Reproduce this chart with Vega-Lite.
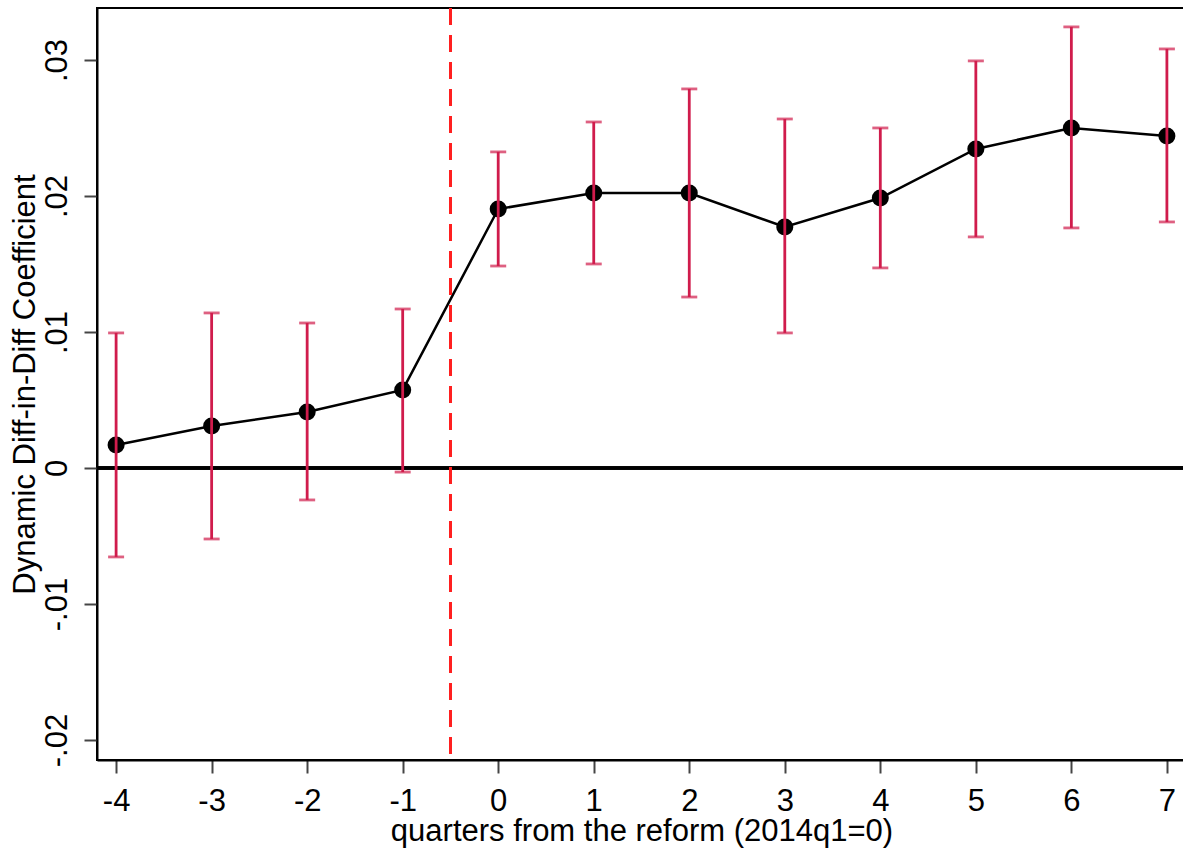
{
  "$schema": "https://vega.github.io/schema/vega-lite/v6.json",
  "width": 1089,
  "height": 752,
  "autosize": {"type": "none"},
  "padding": {"left": 97, "top": 8, "right": 0, "bottom": 90},
  "background": "white",
  "config": {
    "font": "Liberation Sans",
    "view": {"stroke": "black", "strokeWidth": 2},
    "axis": {"grid": false, "domain": true, "domainColor": "black", "domainWidth": 2, "tickColor": "#444", "tickWidth": 2, "tickSize": 13, "labelFontSize": 31, "titleFontSize": 31, "labelColor": "black", "titleColor": "black", "titleFontWeight": "normal", "labelFont": "Liberation Sans", "titleFont": "Liberation Sans"}
  },
  "data": {"values": [
    {"q": -4, "coef": 0.00169, "lo": -0.00654, "hi": 0.00993},
    {"q": -3, "coef": 0.00309, "lo": -0.00522, "hi": 0.0114},
    {"q": -2, "coef": 0.00412, "lo": -0.00235, "hi": 0.01066},
    {"q": -1, "coef": 0.00574, "lo": -0.0003, "hi": 0.01169},
    {"q": 0, "coef": 0.01904, "lo": 0.01485, "hi": 0.02324},
    {"q": 1, "coef": 0.02022, "lo": 0.015, "hi": 0.02544},
    {"q": 2, "coef": 0.02022, "lo": 0.01257, "hi": 0.02787},
    {"q": 3, "coef": 0.01772, "lo": 0.00993, "hi": 0.02566},
    {"q": 4, "coef": 0.01985, "lo": 0.01471, "hi": 0.025},
    {"q": 5, "coef": 0.02346, "lo": 0.01699, "hi": 0.02993},
    {"q": 6, "coef": 0.025, "lo": 0.01765, "hi": 0.03243},
    {"q": 7, "coef": 0.02441, "lo": 0.01809, "hi": 0.03081}
  ]},
  "encoding": {
    "x": {"field": "q", "type": "quantitative", "scale": {"domain": [-4.2, 7.2], "nice": false, "zero": false},
      "axis": {"values": [-4, -3, -2, -1, 0, 1, 2, 3, 4, 5, 6, 7], "labelExpr": "replace(format(datum.value, 'd'), '\u2212', '-')", "title": "quarters from the reform (2014q1=0)", "labelPadding": 13, "titlePadding": 0}}
  },
  "layer": [
    {
      "mark": {"type": "rule", "color": "black", "strokeWidth": 2.5},
      "encoding": {"y": {"datum": 0, "type": "quantitative"}, "x": null}
    },
    {
      "mark": {"type": "line", "color": "black", "strokeWidth": 2.5},
      "encoding": {
        "y": {"field": "coef", "type": "quantitative",
          "scale": {"domain": [-0.02147, 0.03382], "nice": false, "zero": false},
          "axis": {"values": [-0.02, -0.01, 0, 0.01, 0.02, 0.03], "labelExpr": "datum.value == 0 ? '0' : replace(replace(format(datum.value, '.2f'), '\u2212', '-'), '0.', '.')", "labelAngle": -90, "labelAlign": "center", "labelBaseline": "bottom", "labelPadding": 11, "title": "Dynamic Diff-in-Diff Coefficient", "titlePadding": 0}}
      }
    },
    {
      "mark": {"type": "point", "filled": true, "color": "black", "opacity": 1, "size": 290},
      "encoding": {"y": {"field": "coef", "type": "quantitative"}}
    },
    {
      "mark": {"type": "errorbar", "color": "#d01c4c", "thickness": 2.8, "ticks": {"size": 16, "thickness": 2.8, "color": "#d01c4c"}},
      "encoding": {
        "y": {"field": "lo", "type": "quantitative", "title": "Dynamic Diff-in-Diff Coefficient"},
        "y2": {"field": "hi"}
      }
    },
    {
      "mark": {"type": "rule", "color": "#ff2020", "strokeWidth": 2.5, "strokeDash": [17, 10]},
      "encoding": {"x": {"datum": -0.5, "type": "quantitative"}}
    }
  ]
}
